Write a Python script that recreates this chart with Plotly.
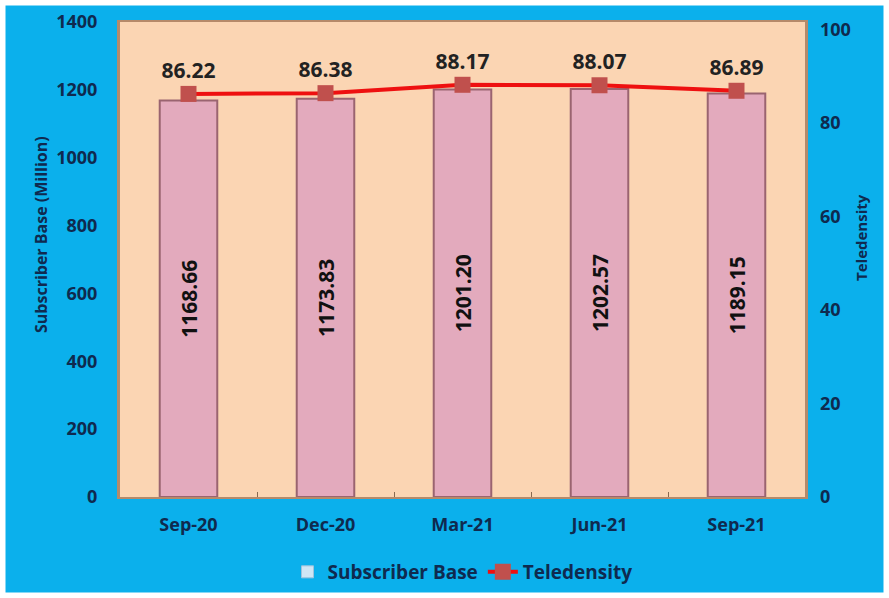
import plotly.graph_objects as go

quarters = ["Sep-20", "Dec-20", "Mar-21", "Jun-21", "Sep-21"]
subscriber_base = [1168.66, 1173.83, 1201.20, 1202.57, 1189.15]
teledensity = [86.22, 86.38, 88.17, 88.07, 86.89]

BLUE = "#0bb0ec"
PEACH = "#fbd5b3"
NAVY = "#0f2a4f"
W, H = 889, 598
M = dict(l=120, r=84, t=22, b=101)
pw = W - M["l"] - M["r"]
ph = H - M["t"] - M["b"]


def px_x(x):
    return (x - M["l"]) / pw


def px_y(y):
    return (H - M["b"] - y) / ph


fig = go.Figure()

fig.add_trace(go.Bar(
    x=quarters, y=subscriber_base,
    name="Subscriber Base", showlegend=False,
    marker=dict(color="#e3aabd", line=dict(color="#9a6470", width=2)),
    width=0.42,
    text=[f"{v:.2f}" for v in subscriber_base],
    textposition="inside", insidetextanchor="middle", textangle=-90,
    textfont=dict(size=21, color="#111111", family="Open Sans", weight="bold"),
))

# legend-only swatch (light blue like the original)
fig.add_trace(go.Bar(
    x=[quarters[0]], y=[None], name="Subscriber Base",
    marker=dict(color="#cfe6f5", line=dict(color="#9fc3dc", width=1)),
))

fig.add_trace(go.Scatter(
    x=quarters, y=teledensity, yaxis="y2",
    name="Teledensity", mode="lines+markers+text",
    line=dict(color="#ee1010", width=4),
    marker=dict(symbol="square", size=16, color="#c0504d"),
    text=[f"{v:.2f}" for v in teledensity],
    textposition="top center",
    textfont=dict(size=21, color="#222222", family="Open Sans", weight="bold"),
))

fig.update_layout(
    width=W, height=H,
    margin=M,
    paper_bgcolor=BLUE,
    plot_bgcolor=PEACH,
    barmode="overlay",
    font=dict(family="Open Sans", color=NAVY, size=15, weight="bold"),
    xaxis=dict(
        automargin=False,
        showgrid=False, ticks="inside", ticklen=5, tickcolor="#8a6a50",
        tickson="boundaries",
        tickfont=dict(size=18, color=NAVY, weight="bold"),
        ticklabelstandoff=10,
        showline=True, linecolor="#b58a6a", linewidth=2, mirror=True,
    ),
    yaxis=dict(
        automargin=False,
        range=[0, 1400], dtick=200, showgrid=False, zeroline=False,
        tickfont=dict(size=18, color=NAVY, weight="bold"),
        ticklabelstandoff=16,
        showline=True, linecolor="#b58a6a", linewidth=3, mirror=True,
    ),
    yaxis2=dict(
        automargin=False,
        overlaying="y", side="right",
        range=[0, 101.6], tickvals=[0, 20, 40, 60, 80, 100],
        showgrid=False, zeroline=False,
        tickfont=dict(size=18, color=NAVY, weight="bold"),
        ticklabelstandoff=14,
    ),
    legend=dict(
        orientation="h", x=0.5, xanchor="center",
        yref="container", y=26 / H, yanchor="middle",
        bgcolor="rgba(0,0,0,0)",
        font=dict(size=19, color=NAVY, weight="bold"),
        traceorder="normal",
    ),
    annotations=[
        dict(text="Subscriber Base (Million)", xref="paper", yref="paper",
             x=px_x(28), y=px_y(235), textangle=-90, showarrow=False,
             font=dict(size=16, color=NAVY, weight="bold")),
        dict(text="Teledensity", xref="paper", yref="paper",
             x=px_x(873), y=px_y(238), textangle=-90, showarrow=False,
             font=dict(size=15, color=NAVY, weight="bold")),
    ],
    shapes=[
        dict(type="rect", xref="paper", yref="paper",
             x0=px_x(2.5), x1=px_x(W - 2.5),
             y0=px_y(H - 2.5), y1=px_y(2.5),
             line=dict(color="white", width=6), layer="above"),
    ],
)

fig.write_html("out.html", config={"displayModeBar": False},
               post_script="document.body.style.margin='0';")
